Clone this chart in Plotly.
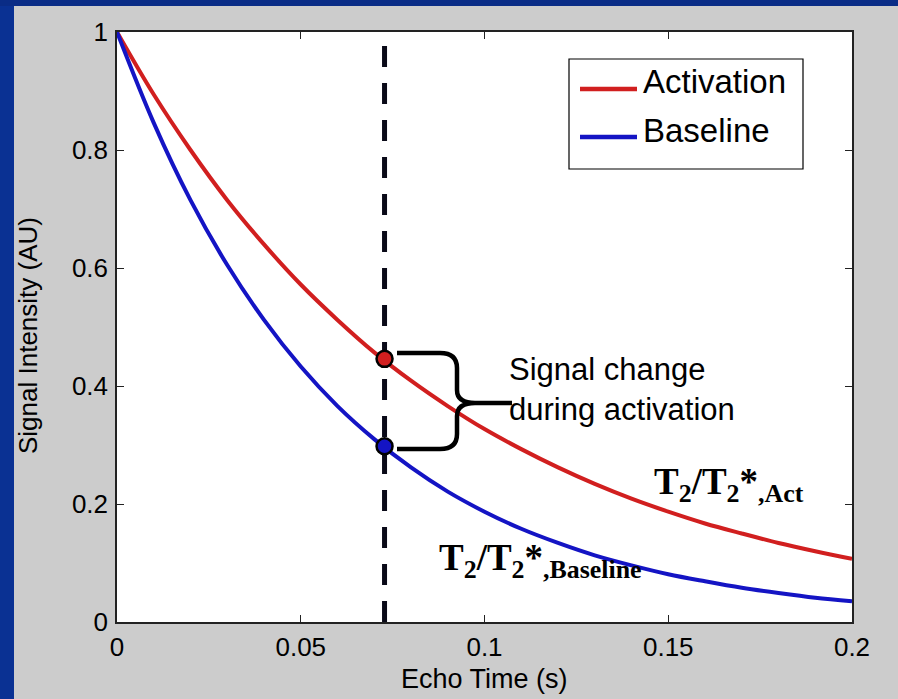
import plotly.graph_objects as go

# ---- data ----
echo_time = [0.00, 0.01, 0.02, 0.03, 0.04, 0.05, 0.06, 0.07, 0.08, 0.09, 0.10,
             0.11, 0.12, 0.13, 0.14, 0.15, 0.16, 0.17, 0.18, 0.19, 0.20]
activation = [1.000, 0.894, 0.800, 0.715, 0.640, 0.572, 0.512, 0.457, 0.409, 0.366, 0.327,
              0.293, 0.262, 0.234, 0.209, 0.187, 0.167, 0.150, 0.134, 0.120, 0.107]
baseline = [1.000, 0.846, 0.715, 0.605, 0.512, 0.433, 0.366, 0.310, 0.262, 0.221, 0.187,
            0.158, 0.134, 0.113, 0.096, 0.081, 0.069, 0.058, 0.049, 0.041, 0.035]
series_names = ["Activation", "Baseline"]
te_marker = 0.0728
act_at_te = 0.446
base_at_te = 0.298
x_ticks = [0, 0.05, 0.1, 0.15, 0.2]
x_tick_labels = ["0", "0.05", "0.1", "0.15", "0.2"]
y_ticks = [0, 0.2, 0.4, 0.6, 0.8, 1]
y_tick_labels = ["0", "0.2", "0.4", "0.6", "0.8", "1"]

RED = "#d11f1f"
BLUE = "#1414c4"
GRAY = "#cccccc"
SLIDE_BLUE = "#0a3193"
FONT = "Liberation Sans, Arial, sans-serif"
SERIF = "Liberation Serif, Times New Roman, serif"

W, H = 898, 699
L, R, T, B = 117, 46, 32, 77
pw, ph = W - L - R, H - T - B


def px2x(p):  # pixel column -> data x
    return (p - L) / pw * 0.2


def py2y(p):  # pixel row -> data y
    return (H - B - p) / ph


def pxp(p):  # pixel column -> paper x
    return (p - L) / pw


def pyp(p):  # pixel row -> paper y
    return (H - B - p) / ph


fig = go.Figure()
fig.add_trace(go.Scatter(x=echo_time, y=activation, mode="lines", name=series_names[0],
                         line=dict(color=RED, width=4, shape="spline"), showlegend=False))
fig.add_trace(go.Scatter(x=echo_time, y=baseline, mode="lines", name=series_names[1],
                         line=dict(color=BLUE, width=4, shape="spline"), showlegend=False))
fig.add_trace(go.Scatter(x=[te_marker, te_marker], y=[0, 0.99], mode="lines", showlegend=False,
                         line=dict(color="#0a0a18", width=5, dash="21px,16px")))
fig.add_trace(go.Scatter(x=[te_marker, te_marker], y=[act_at_te, base_at_te], mode="markers",
                         showlegend=False,
                         marker=dict(size=16, color=[RED, BLUE],
                                     line=dict(color="black", width=2.5))))

# curly brace
xa, xc, xd = px2x(397), px2x(457), px2x(512)
ytop, ybot, ymid = py2y(353), py2y(449), py2y(403)
path = (f"M {xa},{ytop} L {px2x(440)},{ytop} Q {xc},{ytop} {xc},{py2y(368)} "
        f"L {xc},{py2y(390)} Q {xc},{ymid} {px2x(475)},{ymid} L {xd},{ymid} "
        f"M {px2x(475)},{ymid} Q {xc},{ymid} {xc},{py2y(416)} "
        f"L {xc},{py2y(434)} Q {xc},{ybot} {px2x(440)},{ybot} L {xa},{ybot}")
fig.add_shape(type="path", path=path, xref="x", yref="y",
              line=dict(color="black", width=4.5))

# slide-blue border strips (left and top)
fig.add_shape(type="rect", xref="paper", yref="paper", x0=pxp(-2), x1=pxp(14),
              y0=pyp(H + 2), y1=pyp(-2), fillcolor=SLIDE_BLUE, line_width=0, layer="below")
fig.add_shape(type="rect", xref="paper", yref="paper", x0=pxp(-2), x1=pxp(W + 2),
              y0=pyp(6), y1=pyp(-2), fillcolor="#0a2c86", line_width=0, layer="below")

# legend drawn as a box with line samples
fig.add_shape(type="rect", xref="paper", yref="paper", x0=pxp(569), x1=pxp(803),
              y0=pyp(169), y1=pyp(59), fillcolor="white", line=dict(color="black", width=1.2))
for name, col, ly, ty in [(series_names[0], RED, 89, 81), (series_names[1], BLUE, 137, 130)]:
    fig.add_shape(type="line", xref="paper", yref="paper", x0=pxp(580), x1=pxp(637),
                  y0=pyp(ly), y1=pyp(ly), line=dict(color=col, width=4.5))
    fig.add_annotation(x=pxp(641), y=pyp(ty), xref="paper", yref="paper", xanchor="left",
                       yanchor="middle", text=name, showarrow=False,
                       font=dict(family=FONT, size=33, color="black"))

fig.add_annotation(x=px2x(507), y=py2y(389), xref="x", yref="y", xanchor="left", yanchor="middle",
                   text="Signal change<br>during activation", showarrow=False, align="left",
                   font=dict(family=FONT, size=31, color="black"))
fig.add_annotation(x=px2x(652), y=py2y(484), xref="x", yref="y", xanchor="left", yanchor="middle",
                   text="T<sub>2</sub>/T<sub>2</sub>*<sub>,Act</sub>", showarrow=False,
                   font=dict(family=SERIF, size=37, color="black", weight="bold"))
fig.add_annotation(x=px2x(437), y=py2y(560), xref="x", yref="y", xanchor="left", yanchor="middle",
                   text="T<sub>2</sub>/T<sub>2</sub>*<sub>,Baseline</sub>", showarrow=False,
                   font=dict(family=SERIF, size=37, color="black", weight="bold"))

# axis titles
fig.add_annotation(x=pxp(484), y=pyp(679), xref="paper", yref="paper", xanchor="center",
                   yanchor="middle", text="Echo Time (s)", showarrow=False,
                   font=dict(family=FONT, size=27, color="black"))
fig.add_annotation(x=pxp(28), y=pyp(336), xref="paper", yref="paper", xanchor="center",
                   yanchor="middle", text="Signal Intensity (AU)", showarrow=False, textangle=-90,
                   font=dict(family=FONT, size=26, color="black"))

axis_common = dict(showline=True, linecolor="#222222", linewidth=1.5, mirror="ticks",
                   ticks="inside", ticklen=7, tickcolor="#222222", showgrid=False, zeroline=False,
                   tickfont=dict(family=FONT, size=26, color="black"))
fig.update_xaxes(range=[0, 0.2], tickvals=x_ticks, ticktext=x_tick_labels,
                 ticklabelstandoff=1, **axis_common)
fig.update_yaxes(range=[0, 1], tickvals=y_ticks, ticktext=y_tick_labels,
                 ticklabelstandoff=2, **axis_common)

fig.update_layout(
    width=W, height=H, autosize=False,
    margin=dict(l=L, r=R, t=T, b=B),
    paper_bgcolor=GRAY, plot_bgcolor="white",
    showlegend=False,
)

fig.write_html("out.html", config={"displayModeBar": False},
               post_script="document.body.style.margin='0';"
                           "document.body.style.background='" + GRAY + "';")
